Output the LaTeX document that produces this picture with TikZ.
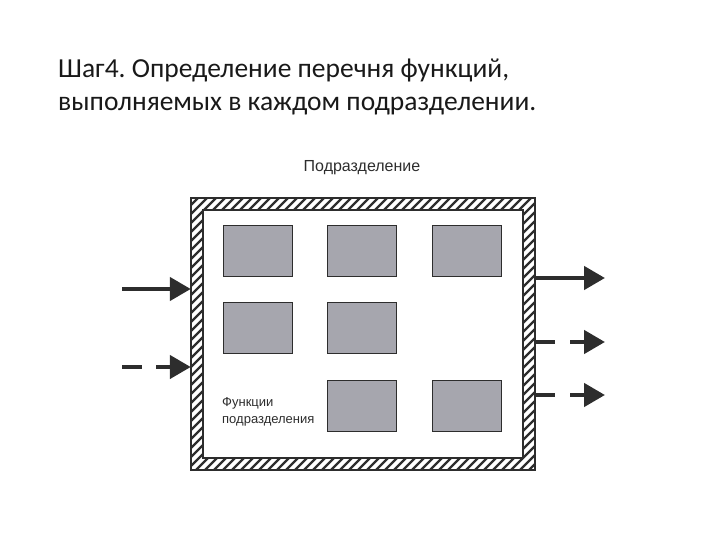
\documentclass[tikz,border=0pt]{standalone}
\usepackage{fontspec}
\setmainfont{Carlito}
\newfontfamily\diagfont{Liberation Sans}
\usetikzlibrary{arrows.meta,positioning}
\definecolor{ink}{RGB}{45,45,45}
\definecolor{boxgray}{RGB}{166,166,174}
\frenchspacing

\begin{document}
\begin{tikzpicture}[x=1pt,y=-1pt,
  func/.style={draw=ink,line width=1.2pt,fill=boxgray,minimum width=69pt,minimum height=51pt,inner sep=0pt},
  unitframe/.style={minimum width=344pt,minimum height=272pt,inner sep=0pt},
  arr/.style={-{Triangle[length=21pt,width=23pt]},line width=4.5pt,draw=ink},
  darrin/.style={arr,dash pattern=on 20pt off 14pt on 80pt},
  darrout/.style={arr,dash pattern=on 20pt off 15pt on 80pt}]
\useasboundingbox (0,0) rectangle (720,540);
\node[anchor=base west,inner sep=0pt,text=black!90,font=\fontsize{27.5}{33}\selectfont] (title1) at (58,78) {Шаг4. Определение перечня функций,};
\node[anchor=base west,inner sep=0pt,text=black!90,font=\fontsize{27.5}{33}\selectfont] (title2) at (58,111) {выполняемых в каждом подразделении.};
\node[text=ink,font=\diagfont\fontsize{16}{18}\selectfont] (unitlabel) at (362,168) {Подразделение};
\node[unitframe] (unit) at (363,334) {};
\begin{scope}
  \clip (unit.north west) rectangle (unit.south east);
  \foreach \i in {-85,-76,...,540}
    \draw[ink,line width=2.3pt] (\i,472) -- ++(276,-276);
\end{scope}
\fill[white] ([shift={(12,12)}]unit.north west) rectangle ([shift={(-12,-12)}]unit.south east);
\draw[ink,line width=1.5pt] (unit.north west) rectangle (unit.south east);
\draw[ink,line width=1.5pt] ([shift={(12,12)}]unit.north west) rectangle ([shift={(-12,-12)}]unit.south east);
\node[func] (f11) at (258,251) {};
\node[func] (f12) at (362,251) {};
\node[func] (f13) at (467,251) {};
\node[func] (f21) at (258,328) {};
\node[func] (f22) at (362,328) {};
\node[func] (f32) at (362,406) {};
\node[func] (f33) at (467,406) {};
\node[anchor=base west,align=left,inner sep=0pt,text=ink,font=\diagfont\fontsize{13}{17}\selectfont] (funclabel) at (222,423) {Функции\\подразделения};
\coordinate (in1) at (122,289);
\coordinate (in2) at (122,367);
\coordinate (out1) at (605,278);
\coordinate (out2) at (605,342);
\coordinate (out3) at (605,395);
\draw[arr] (in1) -- (in1-|unit.west);
\draw[darrin] (in2) -- (in2-|unit.west);
\draw[arr] (out1-|unit.east) -- (out1);
\draw[darrout] (out2-|unit.east) -- (out2);
\draw[darrout] (out3-|unit.east) -- (out3);
\end{tikzpicture}
\end{document}
